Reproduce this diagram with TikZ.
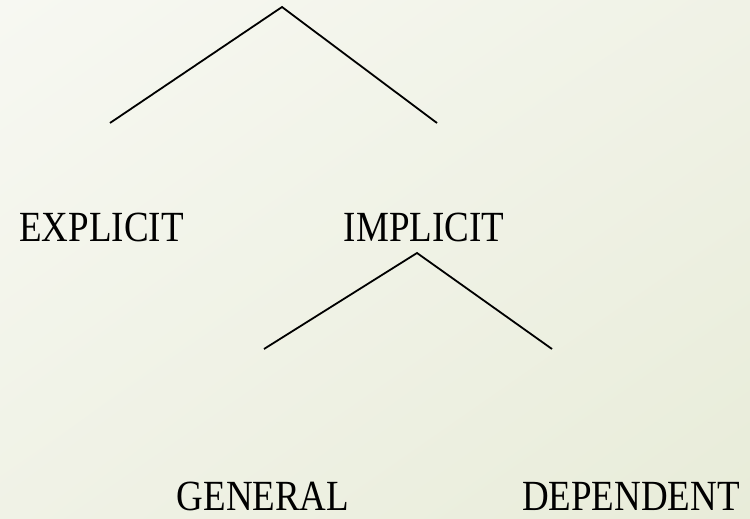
\documentclass[tikz,border=0pt]{standalone}
\usepackage{fontspec}
\setmainfont{Liberation Serif}
\usepackage{graphicx}
\usetikzlibrary{positioning,shadings}
\definecolor{bgtop}{RGB}{247,248,242}
\definecolor{bgbottom}{RGB}{232,236,217}
\definecolor{bgmid}{RGB}{240,242,230}
\tikzset{
  termlabel/.style={anchor=base,inner sep=0pt,font=\fontsize{43}{48}\selectfont},
  branch/.style={line width=1.8pt,draw=black},
}
\newcommand{\squeeze}[1]{\scalebox{0.86}[1]{#1}}

\begin{document}
\begin{tikzpicture}[x=1pt,y=-1pt]
        \shade[upper left=bgtop,upper right=bgmid,lower left=bgmid,lower right=bgbottom]
          (0,0) rectangle (750,519);
        \useasboundingbox (0,0) rectangle (750,519);
        % upper fork
        \coordinate (top) at (282,7);
        \coordinate (topl) at (110,123);
        \coordinate (topr) at (437,123);
        \node[termlabel] (explicit) at (101.5,241) {\squeeze{EXPLICIT}};
        \node[termlabel] (implicit) at (424,241) {\squeeze{IMPLICIT}};
        % lower fork
        \coordinate (mid) at (417,253);
        \coordinate (midl) at (264,349);
        \coordinate (midr) at (552,349);
        \node[termlabel] (general) at (263,510) {\squeeze{GENERAL}};
        \node[termlabel] (dependent) at (631,510) {\squeeze{DEPENDENT}};
        \draw[branch] (topl) -- (top) -- (topr);
        \draw[branch] (midl) -- (mid) -- (midr);
      \end{tikzpicture}
\end{document}
